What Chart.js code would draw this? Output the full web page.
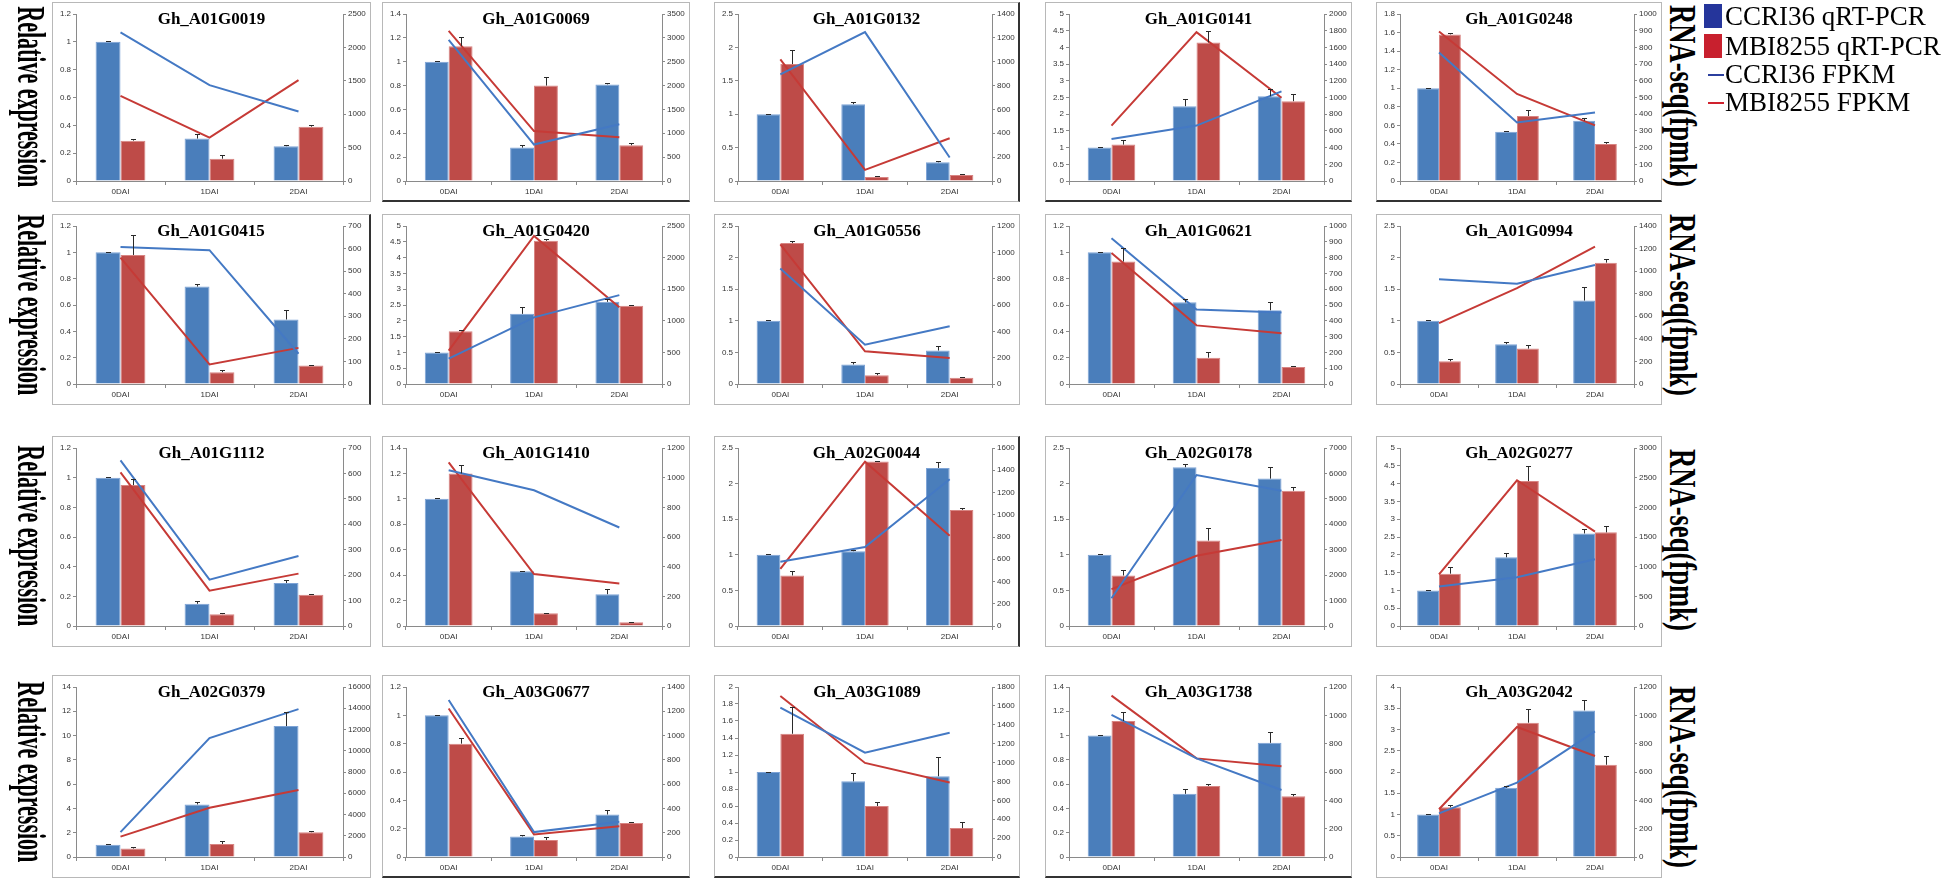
<!DOCTYPE html>
<html>
<head>
<meta charset="utf-8">
<script src="https://cdn.jsdelivr.net/npm/chart.js@4.4.1/dist/chart.umd.min.js"></script>
<style>
html,body{margin:0;padding:0;background:#fff;}
#stage{position:relative;width:1946px;height:880px;overflow:hidden;background:#fff;}
.panel{position:absolute;box-sizing:border-box;border:1px solid #b8b8b8;background:#fff;}
.panel canvas{position:absolute;left:0;top:0;}
.ptitle{position:absolute;left:0;right:0;top:7px;line-height:18px;text-align:center;font-family:'Liberation Serif','Times New Roman',serif;font-weight:bold;font-size:17px;color:#000;pointer-events:none;}
.vlab{position:absolute;writing-mode:vertical-rl;text-align:center;font-family:'Liberation Serif','Times New Roman',serif;font-weight:bold;white-space:nowrap;color:#000;transform-origin:50% 50%;}
.legitem{position:absolute;font-family:'Liberation Serif','Times New Roman',serif;font-size:27px;line-height:28px;white-space:nowrap;color:#000;}
.legsq{position:absolute;}
.legln{position:absolute;height:2px;}
</style>
</head>
<body>
<div id="stage"></div>
<script>
// ---------------- data ----------------
const categories = ['0DAI', '1DAI', '2DAI'];
const genes = ['Gh_A01G0019','Gh_A01G0069','Gh_A01G0132','Gh_A01G0141','Gh_A01G0248',
               'Gh_A01G0415','Gh_A01G0420','Gh_A01G0556','Gh_A01G0621','Gh_A01G0994',
               'Gh_A01G1112','Gh_A01G1410','Gh_A02G0044','Gh_A02G0178','Gh_A02G0277',
               'Gh_A02G0379','Gh_A03G0677','Gh_A03G1089','Gh_A03G1738','Gh_A03G2042'];
const seriesNames = ['CCRI36 qRT-PCR', 'MBI8255 qRT-PCR', 'CCRI36 FPKM', 'MBI8255 FPKM'];
// CCRI36 qRT-PCR (relative expression, blue bars)
const ccriQ = [[1.0,0.305,0.25],[1.0,0.28,0.81],[1.0,1.15,0.28],[1.0,2.24,2.54],[1.0,0.53,0.65],
               [1.0,0.74,0.49],[1.0,2.22,2.6],[1.0,0.31,0.53],[1.0,0.62,0.56],[1.0,0.63,1.32],
               [1.0,0.15,0.29],[1.0,0.43,0.25],[1.0,1.05,2.22],[1.0,2.23,2.07],[1.0,1.93,2.6],
               [1.0,4.33,10.78],[1.0,0.145,0.30],[1.0,0.89,0.95],[1.0,0.52,0.94],[1.0,1.63,3.45]];
const ccriQErr = [[0.005,0.03,0.01],[0.005,0.02,0.01],[0.01,0.03,0.02],[0.01,0.22,0.2],[0.005,0.005,0.03],
                  [0.005,0.02,0.07],[0.02,0.21,0.1],[0.01,0.04,0.07],[0.005,0.025,0.06],[0.01,0.04,0.21],
                  [0.005,0.02,0.02],[0.005,0.005,0.04],[0.01,0.02,0.09],[0.005,0.04,0.17],[0.01,0.12,0.13],
                  [0.05,0.2,1.2],[0.005,0.01,0.03],[0.005,0.1,0.23],[0.005,0.04,0.09],[0.005,0.03,0.24]];
// MBI8255 qRT-PCR (relative expression, red bars)
const mbiQ = [[0.29,0.16,0.39],[1.13,0.80,0.30],[1.75,0.06,0.09],[1.09,4.15,2.39],[1.58,0.70,0.40],
              [0.98,0.09,0.14],[1.67,4.53,2.48],[2.23,0.14,0.10],[0.93,0.20,0.13],[0.36,0.56,1.92],
              [0.95,0.08,0.21],[1.20,0.10,0.03],[0.71,2.31,1.63],[0.71,1.20,1.90],[1.47,4.07,2.63],
              [0.70,1.07,2.04],[0.80,0.12,0.24],[1.45,0.60,0.34],[1.12,0.585,0.50],[1.17,3.16,2.17]];
const mbiQErr = [[0.01,0.025,0.015],[0.08,0.07,0.02],[0.21,0.015,0.01],[0.15,0.33,0.2],[0.01,0.07,0.025],
                 [0.15,0.015,0.005],[0.05,0.07,0.03],[0.04,0.04,0.005],[0.10,0.04,0.01],[0.04,0.05,0.05],
                 [0.04,0.01,0.005],[0.07,0.005,0.005],[0.06,0.005,0.03],[0.07,0.18,0.05],[0.18,0.42,0.19],
                 [0.1,0.25,0.1],[0.04,0.02,0.005],[0.31,0.05,0.07],[0.07,0.015,0.02],[0.06,0.32,0.21]];
// CCRI36 FPKM (RNA-seq, blue line)
const ccriF = [[2225,1435,1040],[2956,764,1188],[893,1248,197],[503,664,1074],[770,350,410],
               [607,593,134],[402,1054,1406],[877,299,439],[922,472,452],[928,888,1054],
               [651,182,275],[1050,915,664],[577,710,1319],[1091,5937,5315],[665,823,1125],
               [2336,11200,13920],[1293,205,290],[1582,1105,1316],[1004,696,473],[308,525,887]];
// MBI8255 FPKM (RNA-seq, red line)
const mbiF = [[1275,650,1510],[3147,1047,919],[1020,93,358],[664,1783,998],[895,521,333],
              [560,87,160],[527,2344,1215],[1060,248,198],[829,371,321],[540,849,1217],
              [604,139,206],[1103,350,287],[514,1477,811],[1450,2761,3383],[871,2456,1591],
              [1920,4640,6304],[1223,186,253],[1705,996,789],[1139,696,640],[337,918,713]];
// axis ranges / tick steps
const leftMax   = [1.2,1.4,2.5,5,1.8, 1.2,5,2.5,1.2,2.5, 1.2,1.4,2.5,2.5,5, 14,1.2,2,1.4,4];
const leftStep  = [0.2,0.2,0.5,0.5,0.2, 0.2,0.5,0.5,0.2,0.5, 0.2,0.2,0.5,0.5,0.5, 2,0.2,0.2,0.2,0.5];
const rightMax  = [2500,3500,1400,2000,1000, 700,2500,1200,1000,1400, 700,1200,1600,7000,3000, 16000,1400,1800,1200,1200];
const rightStep = [500,500,200,200,100, 100,500,200,100,200, 100,200,200,1000,500, 2000,200,200,200,200];
const leftTitle = 'Relative expression';
const rightTitle = 'RNA-seq(fpmk)';

// ---------------- layout / style ----------------
const stage = document.getElementById('stage');
const colX = [52, 382, 714, 1045, 1376];
const colW = [319, 308, 306, 307, 286];
const rowY = [2, 214, 436, 675];
const rowH = [200, 191, 211, 203];
const leftLabCY = [97, 305, 536, 772];
const rightLabCY = [96, 305, 540, 777];
const darkBottom = new Set([1,3,4,16,17,18]);
const darkRight = new Set([2,5,12]);
const BLUE = '#4a7ebb', RED = '#be4b48';
const LBLUE = '#4479c4', LRED = '#c63a36';
const AXIS = '#8a8a8a';
const tickFont = {family:"'Liberation Sans', Arial, sans-serif", size:8};

const errorBars = {
  id:'errorBars',
  afterDatasetsDraw(chart){
    const ctx = chart.ctx;
    chart.data.datasets.forEach((ds, di) => {
      if (!ds.err) return;
      const meta = chart.getDatasetMeta(di);
      const ys = chart.scales[ds.yAxisID];
      meta.data.forEach((bar, j) => {
        const v = ds.data[j], e = ds.err[j];
        const x = Math.round(bar.x) + 0.5;
        const y0 = ys.getPixelForValue(v);
        const y1 = Math.round(ys.getPixelForValue(v + e)) + 0.5;
        ctx.save();
        ctx.strokeStyle = '#2a2a2a';
        ctx.lineWidth = 1;
        ctx.beginPath();
        ctx.moveTo(x, y0); ctx.lineTo(x, y1);
        ctx.moveTo(x - 2.5, y1); ctx.lineTo(x + 2.5, y1);
        ctx.stroke();
        ctx.restore();
      });
    });
  }
};

const fmt = v => String(Math.round(v * 100) / 100);

genes.forEach((g, i) => {
  const r = Math.floor(i / 5), c = i % 5;
  const div = document.createElement('div');
  div.className = 'panel';
  div.style.left = colX[c] + 'px';
  div.style.top = rowY[r] + 'px';
  div.style.width = colW[c] + 'px';
  div.style.height = rowH[r] + 'px';
  if (darkBottom.has(i)) div.style.borderBottom = '2px solid #333';
  if (darkRight.has(i)) div.style.borderRight = '2px solid #333';
  const cw = colW[c] - 2, ch = rowH[r] - 2;
  const cv = document.createElement('canvas');
  cv.width = cw; cv.height = ch;
  cv.style.width = cw + 'px'; cv.style.height = ch + 'px';
  div.appendChild(cv);
  const t = document.createElement('div');
  t.className = 'ptitle';
  t.textContent = g;
  div.appendChild(t);
  stage.appendChild(div);

  new Chart(cv, {
    type: 'bar',
    data: {
      labels: categories,
      datasets: [
        {type:'bar', label:seriesNames[0], data:ccriQ[i], err:ccriQErr[i], yAxisID:'y', order:1,
         backgroundColor:BLUE, borderColor:'#7da3d6', borderWidth:{top:1,left:1,right:1,bottom:0},
         categoryPercentage:0.56, barPercentage:1.0},
        {type:'bar', label:seriesNames[1], data:mbiQ[i], err:mbiQErr[i], yAxisID:'y', order:1,
         backgroundColor:RED, borderColor:'#d88482', borderWidth:{top:1,left:1,right:1,bottom:0},
         categoryPercentage:0.56, barPercentage:1.0},
        {type:'line', label:seriesNames[2], data:ccriF[i], yAxisID:'y1', order:0,
         borderColor:LBLUE, borderWidth:2, pointRadius:0, tension:0, fill:false},
        {type:'line', label:seriesNames[3], data:mbiF[i], yAxisID:'y1', order:0,
         borderColor:LRED, borderWidth:2, pointRadius:0, tension:0, fill:false}
      ]
    },
    options: {
      responsive:false, animation:false, devicePixelRatio:1,
      layout:{padding:{top:11, left:0, right:0, bottom:0}},
      plugins:{legend:{display:false}, tooltip:{enabled:false}, title:{display:false}},
      scales:{
        x:{
          grid:{display:true, drawOnChartArea:false, drawTicks:true, tickLength:4, color:AXIS, offset:true},
          border:{display:true, color:AXIS},
          ticks:{font:tickFont, color:'#333', padding:2, maxRotation:0, autoSkip:false},
          afterFit(s){ s.height = 20; }
        },
        y:{
          position:'left', min:0, max:leftMax[i],
          grid:{display:true, drawOnChartArea:false, drawTicks:true, tickLength:3, color:AXIS},
          border:{display:true, color:AXIS},
          ticks:{stepSize:leftStep[i], font:tickFont, color:'#333', padding:2, autoSkip:false, maxTicksLimit:30, callback:fmt},
          afterFit(s){ s.width = 23; }
        },
        y1:{
          position:'right', min:0, max:rightMax[i],
          grid:{display:true, drawOnChartArea:false, drawTicks:true, tickLength:3, color:AXIS},
          border:{display:true, color:AXIS},
          ticks:{stepSize:rightStep[i], font:tickFont, color:'#333', padding:2, autoSkip:false, maxTicksLimit:30, callback:fmt},
          afterFit(s){ s.width = 27; }
        }
      }
    },
    plugins:[errorBars]
  });
});

// row labels (condensed bold serif, reading top to bottom)
function vLabel(text, cx, cy, size, squeeze) {
  const l = document.createElement('div');
  l.className = 'vlab';
  const lh = size + 2;
  l.style.fontSize = size + 'px';
  l.style.lineHeight = lh + 'px';
  l.style.width = lh + 'px';
  l.style.height = '440px';
  l.style.left = (cx - lh / 2) + 'px';
  l.style.top = (cy - 220) + 'px';
  l.style.transform = 'scaleY(' + squeeze + ')';
  l.textContent = text;
  stage.appendChild(l);
}
leftLabCY.forEach(cy => vLabel(leftTitle, 31, cy, 40, 0.55));
rightLabCY.forEach(cy => vLabel(rightTitle, 1683, cy, 38, 0.70));

// legend
const legTop = [2, 32, 60, 88];
const legKinds = ['sq','sq','ln','ln'];
const legColors = ['#25359b', '#c8202e', '#2b3f9e', '#d0222e'];
seriesNames.forEach((name, k) => {
  if (legKinds[k] === 'sq') {
    const s = document.createElement('div');
    s.className = 'legsq';
    s.style.left = '1704px'; s.style.top = (legTop[k] + 2) + 'px';
    s.style.width = '18px'; s.style.height = '24px';
    s.style.background = legColors[k];
    stage.appendChild(s);
  } else {
    const s = document.createElement('div');
    s.className = 'legln';
    s.style.left = '1708px'; s.style.top = (legTop[k] + 14) + 'px';
    s.style.width = '16px';
    s.style.background = legColors[k];
    stage.appendChild(s);
  }
  const t = document.createElement('div');
  t.className = 'legitem';
  t.style.left = '1725px'; t.style.top = legTop[k] + 'px';
  t.textContent = name;
  stage.appendChild(t);
});
</script>
</body>
</html>
